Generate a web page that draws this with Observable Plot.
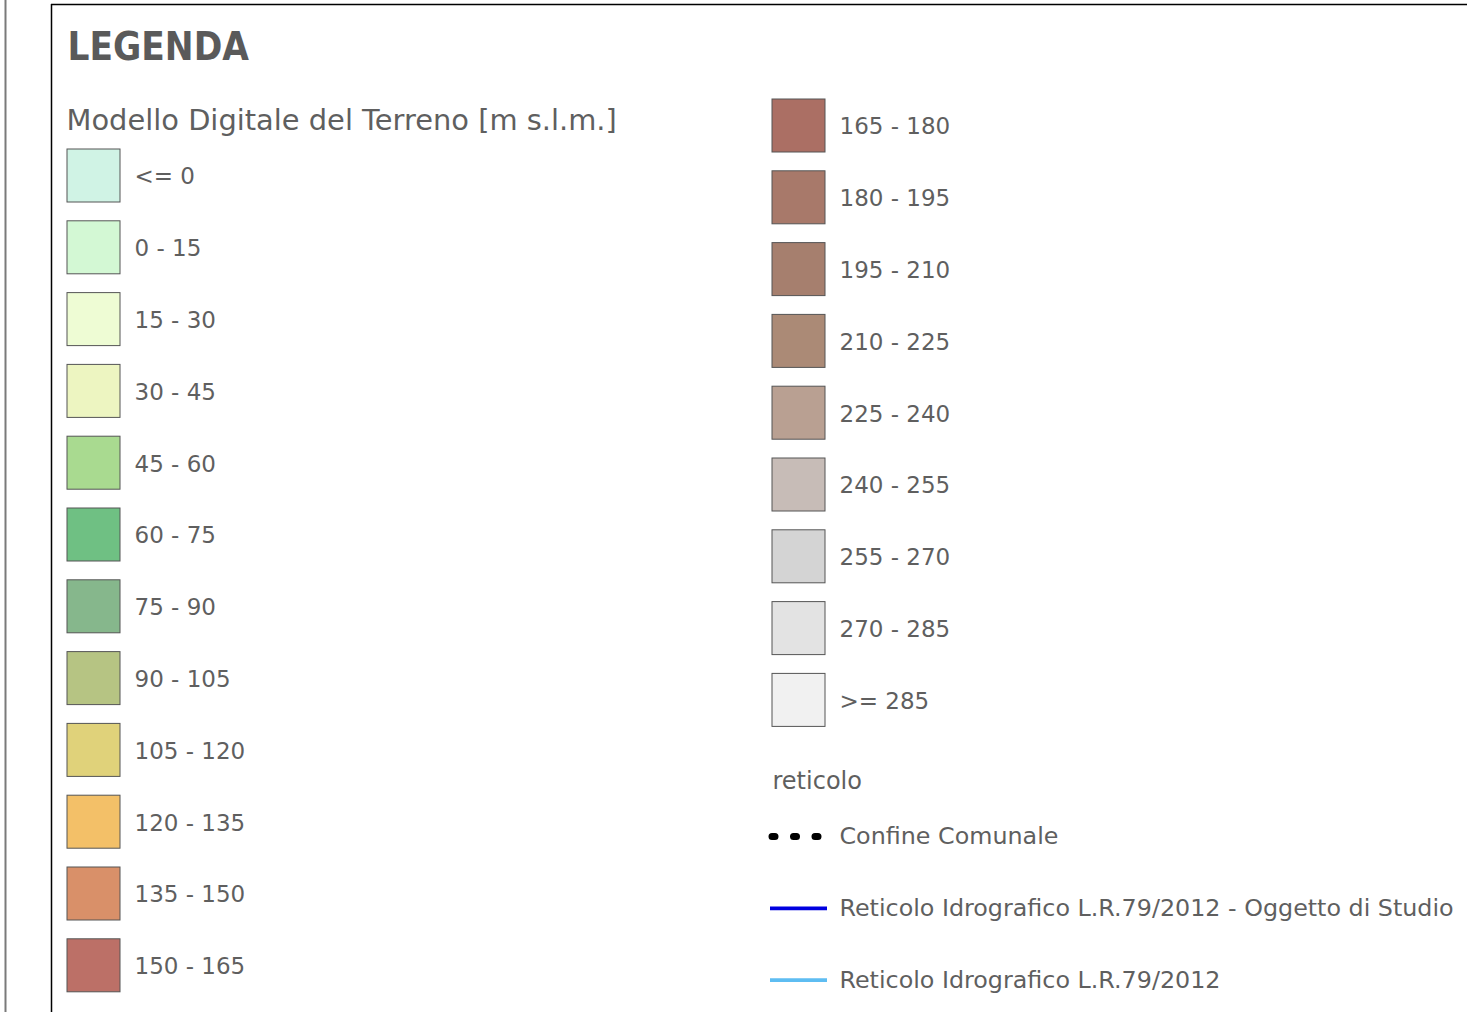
<!DOCTYPE html>
<html>
<head>
<meta charset="utf-8">
<script src="https://cdn.jsdelivr.net/npm/d3@7"></script>
<script src="https://cdn.jsdelivr.net/npm/@observablehq/plot@0.6"></script>
<style>
  html, body { margin: 0; padding: 0; background: #ffffff; overflow: hidden; }
  #chart svg { display: block; }
</style>
</head>
<body>
<div id="chart"></div>
<script>
// ---------- data ----------
const legendTitle = "LEGENDA";
const dtmTitle = "Modello Digitale del Terreno [m s.l.m.]";
const classLabels = [
  "<= 0", "0 - 15", "15 - 30", "30 - 45", "45 - 60", "60 - 75", "75 - 90",
  "90 - 105", "105 - 120", "120 - 135", "135 - 150", "150 - 165",
  "165 - 180", "180 - 195", "195 - 210", "210 - 225", "225 - 240",
  "240 - 255", "255 - 270", "270 - 285", ">= 285"
];
const classColors = [
  "#d0f3e5", "#d3f8d4", "#eefcd4", "#edf5c1", "#a9da90", "#6fc083", "#86b78c",
  "#b6c483", "#e0d27a", "#f3c068", "#d99069", "#bc7067",
  "#ab6f64", "#a8796a", "#a67f6e", "#ab8a76", "#b9a092",
  "#c7bcb7", "#d4d4d4", "#e3e3e3", "#f1f1f1"
];
const reticoloTitle = "reticolo";
const lineLabels = [
  "Confine Comunale",
  "Reticolo Idrografico L.R.79/2012 - Oggetto di Studio",
  "Reticolo Idrografico L.R.79/2012"
];
const lineColors = ["#000000", "#0000e0", "#5ebdf2"];
const lineKinds = ["dots", "solid", "solid"];

// ---------- layout ----------
const W = 1467, H = 1012;
const L = {
  leftRows: 12,
  colX: [67, 772],
  rowTop: [149, 99],
  step: 71.8,
  sw: 53,
  labelDx: 67,
  retTitleY: 781,
  retFirstY: 836,
  lineX: [770, 827],
  textColor: "#5f5f5f"
};

const swatches = classLabels.map((label, i) => {
  const col = i < L.leftRows ? 0 : 1;
  const row = col === 0 ? i : i - L.leftRows;
  const y1 = L.rowTop[col] + row * L.step;
  return {label, color: classColors[i], x1: L.colX[col], x2: L.colX[col] + L.sw,
          y1, y2: y1 + L.sw, tx: L.colX[col] + L.labelDx, ty: y1 + L.sw / 2 + 1};
});

const lineItems = lineLabels.map((label, i) => ({
  label, color: lineColors[i], kind: lineKinds[i],
  y: L.retFirstY + i * L.step, tx: L.colX[1] + L.labelDx
}));

const chart = Plot.plot({
  width: W,
  height: H,
  margin: 0,
  x: {domain: [0, W], range: [0, W], axis: null},
  y: {domain: [0, H], range: [0, H], axis: null},
  style: {background: "#ffffff", fontFamily: "DejaVu Sans"},
  marks: [
    // outer frames
    Plot.ruleX([5], {y1: 0, y2: H, stroke: "#7a7a7a", strokeWidth: 2}),
    Plot.ruleX([51], {y1: 4, y2: H, stroke: "#000000", strokeWidth: 1.5}),
    Plot.ruleY([4], {x1: 51, x2: W, stroke: "#000000", strokeWidth: 1.5}),
    // titles
    Plot.text([legendTitle], {x: () => 67, y: () => 47, text: d => d, textAnchor: "start",
      lineAnchor: "middle", fontSize: 38.3, fontWeight: "bold", fontFamily: "DejaVu Sans Condensed",
      fill: "#5a5a5a"}),
    Plot.text([dtmTitle], {x: () => 66, y: () => 120, text: d => d, textAnchor: "start",
      lineAnchor: "middle", fontSize: 28.9, fill: L.textColor}),
    // swatches
    Plot.rect(swatches, {x1: "x1", x2: "x2", y1: "y1", y2: "y2", fill: "color",
      stroke: "#555555", strokeWidth: 1}),
    Plot.text(swatches, {x: "tx", y: "ty", text: "label", textAnchor: "start",
      lineAnchor: "middle", fontSize: 23, fill: L.textColor}),
    // reticolo
    Plot.text([reticoloTitle], {x: () => L.colX[1], y: () => L.retTitleY, text: d => d,
      textAnchor: "start", lineAnchor: "middle", fontSize: 24, fill: L.textColor}),
    Plot.ruleY(lineItems.filter(d => d.kind === "solid"), {y: "y", x1: () => L.lineX[0],
      x2: () => L.lineX[1], stroke: "color", strokeWidth: 3.8}),
    Plot.ruleY(lineItems.filter(d => d.kind === "dots"), {y: "y", x1: () => 772, x2: () => 820,
      stroke: "color", strokeWidth: 7, strokeDasharray: "3,18.5", strokeLinecap: "round"}),
    Plot.text(lineItems, {x: "tx", y: "y", text: "label", textAnchor: "start",
      lineAnchor: "middle", fontSize: 23.8, fill: L.textColor})
  ]
});
document.getElementById("chart").appendChild(chart);
</script>
</body>
</html>
